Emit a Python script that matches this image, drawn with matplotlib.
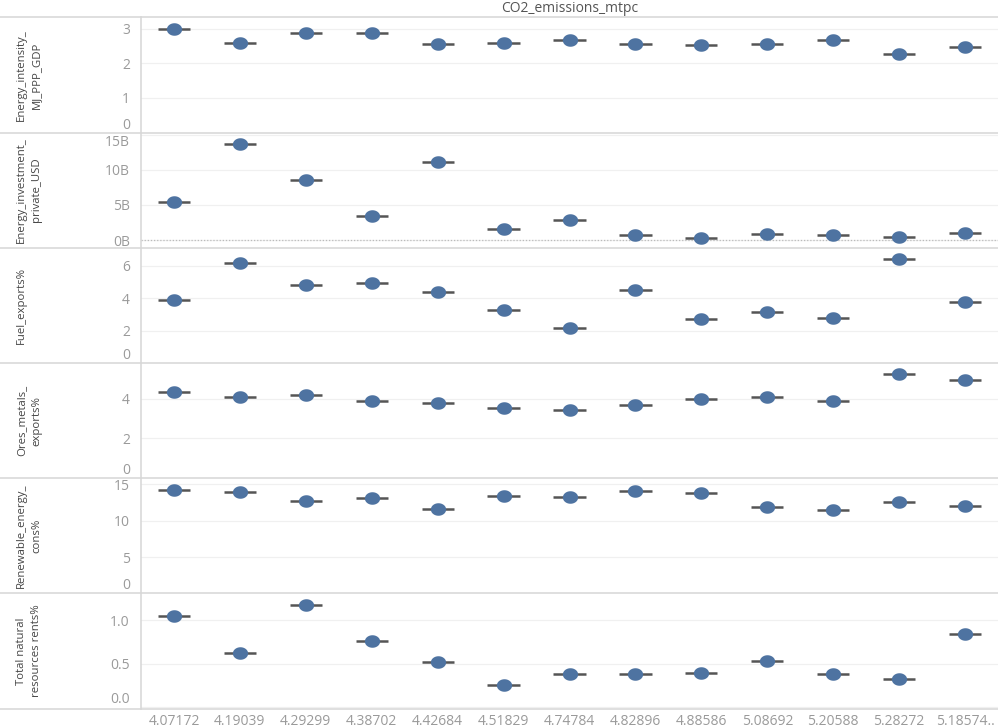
import numpy as np
import matplotlib
matplotlib.use('Agg')
import matplotlib.pyplot as plt
from matplotlib.path import Path
from matplotlib.lines import Line2D

plt.rcParams['font.family'] = ['Open Sans', 'DejaVu Sans']

# --- data ---
categories = ['4.07172', '4.19039', '4.29299', '4.38702', '4.42684', '4.51829', '4.74784',
              '4.82896', '4.88586', '5.08692', '5.20588', '5.28272', '5.18574..']

energy_intensity = [2.99, 2.59, 2.88, 2.88, 2.56, 2.59, 2.68, 2.57, 2.53, 2.55, 2.68, 2.26, 2.47]
energy_invest_bn = [5.46, 13.7, 8.5, 3.36, 11.1, 1.5, 2.9, 0.74, 0.36, 0.93, 0.74, 0.46, 1.07]
fuel_exports = [3.86, 6.14, 4.80, 4.95, 4.39, 3.26, 2.13, 4.52, 2.70, 3.16, 2.77, 6.39, 3.73]
ores_metals = [4.33, 4.11, 4.18, 3.91, 3.78, 3.54, 3.44, 3.69, 4.01, 4.08, 3.91, 5.23, 4.93]
renewable = [14.24, 13.87, 12.74, 13.06, 11.56, 13.42, 13.24, 14.10, 13.74, 11.87, 11.42, 12.55, 12.06]
nat_rents = [1.05, 0.626, 1.18, 0.76, 0.52, 0.255, 0.377, 0.385, 0.397, 0.53, 0.38, 0.32, 0.844]

row_labels = ['Energy_intensity_\nMJ_PPP_GDP', 'Energy_investment_\nprivate_USD', 'Fuel_exports%',
              'Ores_metals_\nexports%', 'Renewable_energy_\ncons%', 'Total natural\nresources rents%']
row_values = [energy_intensity, energy_invest_bn, fuel_exports, ores_metals, renewable, nat_rents]
row_ticks = [[0, 1, 2, 3], [0, 5, 10, 15], [0, 2, 4, 6], [0, 2, 4], [0, 5, 10, 15], [0.0, 0.5, 1.0]]
row_ticklabels = [['0', '1', '2', '3'], ['0B', '5B', '10B', '15B'], ['0', '2', '4', '6'],
                  ['0', '2', '4'], ['0', '5', '10', '15'], ['0.0', '0.5', '1.0']]
row_ylims = [(0, 3.33), (-1.1, 15.3), (0, 7.1), (0, 5.8), (0, 15.8), (-0.02, 1.31)]

# --- layout ---
W, H = 998, 728
left_px, right_px = 141, 998
top_px, bot_px = 17.3, 708.7
edges = np.linspace(top_px, bot_px, len(row_values) + 1)

dot_color = '#4e73a1'
bar_color = '#555555'
border = '#d6d6d6'

theta = np.linspace(0, 2 * np.pi, 64)
ellipse = Path(np.column_stack([np.cos(theta), 0.82 * np.sin(theta)]), closed=True)

fig = plt.figure(figsize=(W / 100, H / 100), dpi=100)
x = np.arange(len(categories))

for i, vals in enumerate(row_values):
    y0, y1 = edges[i], edges[i + 1]
    ax = fig.add_axes([left_px / W, 1 - y1 / H, (right_px - left_px) / W, (y1 - y0) / H])
    ax.set_xlim(-0.5, len(categories) - 0.5)
    ax.set_ylim(*row_ylims[i])

    ax.hlines(vals, x - 0.245, x + 0.245, color=bar_color, lw=1.8, zorder=2)
    ax.plot(x, vals, ls='none', marker=ellipse, ms=11, color=dot_color, mew=0, zorder=3)

    if i == 1:
        ax.axhline(0, color='#bbbbbb', lw=0.9, ls=(0, (1, 1.5)), zorder=1)

    ax.set_yticks(row_ticks[i])
    ax.set_yticklabels(row_ticklabels[i])
    ax.yaxis.grid(True, color='#f0f0f0', lw=0.9)
    ax.set_axisbelow(True)
    ax.tick_params(axis='y', length=0, pad=8, labelsize=10, labelcolor='#9a9a9a')

    # tableau nudges labels at the pane edges inside the pane
    lo, hi = row_ylims[i]
    for t, lab in zip(row_ticks[i], ax.get_yticklabels()):
        if abs(t - lo) < 0.05 * (hi - lo) and i != 1:
            lab.set_va('bottom')
        elif abs(hi - t) < 0.05 * (hi - lo):
            lab.set_va('top')

    if i == len(row_values) - 1:
        ax.set_xticks(x)
        ax.set_xticklabels(categories)
        ax.tick_params(axis='x', length=0, pad=4, labelsize=10, labelcolor='#9a9a9a')
    else:
        ax.set_xticks([])

    for s in ax.spines.values():
        s.set_visible(False)

    fig.text(16 / W, 1 - (y0 + y1) / 2 / H, row_labels[i], rotation=90, ha='left', va='center',
             multialignment='center', fontsize=8.2, color='#444444', linespacing=1.5)

# pane borders across the full width, plus the left axis line
for e in edges:
    fig.add_artist(Line2D([0, 1], [1 - e / H] * 2, transform=fig.transFigure, color=border, lw=1.1))
fig.add_artist(Line2D([left_px / W] * 2, [1 - bot_px / H, 1 - top_px / H],
                      transform=fig.transFigure, color=border, lw=1.1))

fig.text((left_px + right_px) / 2 / W, 1 - 9 / H, 'CO2_emissions_mtpc', ha='center', va='center',
         fontsize=10, color='#555555')

fig.savefig('out.png', dpi=100)
